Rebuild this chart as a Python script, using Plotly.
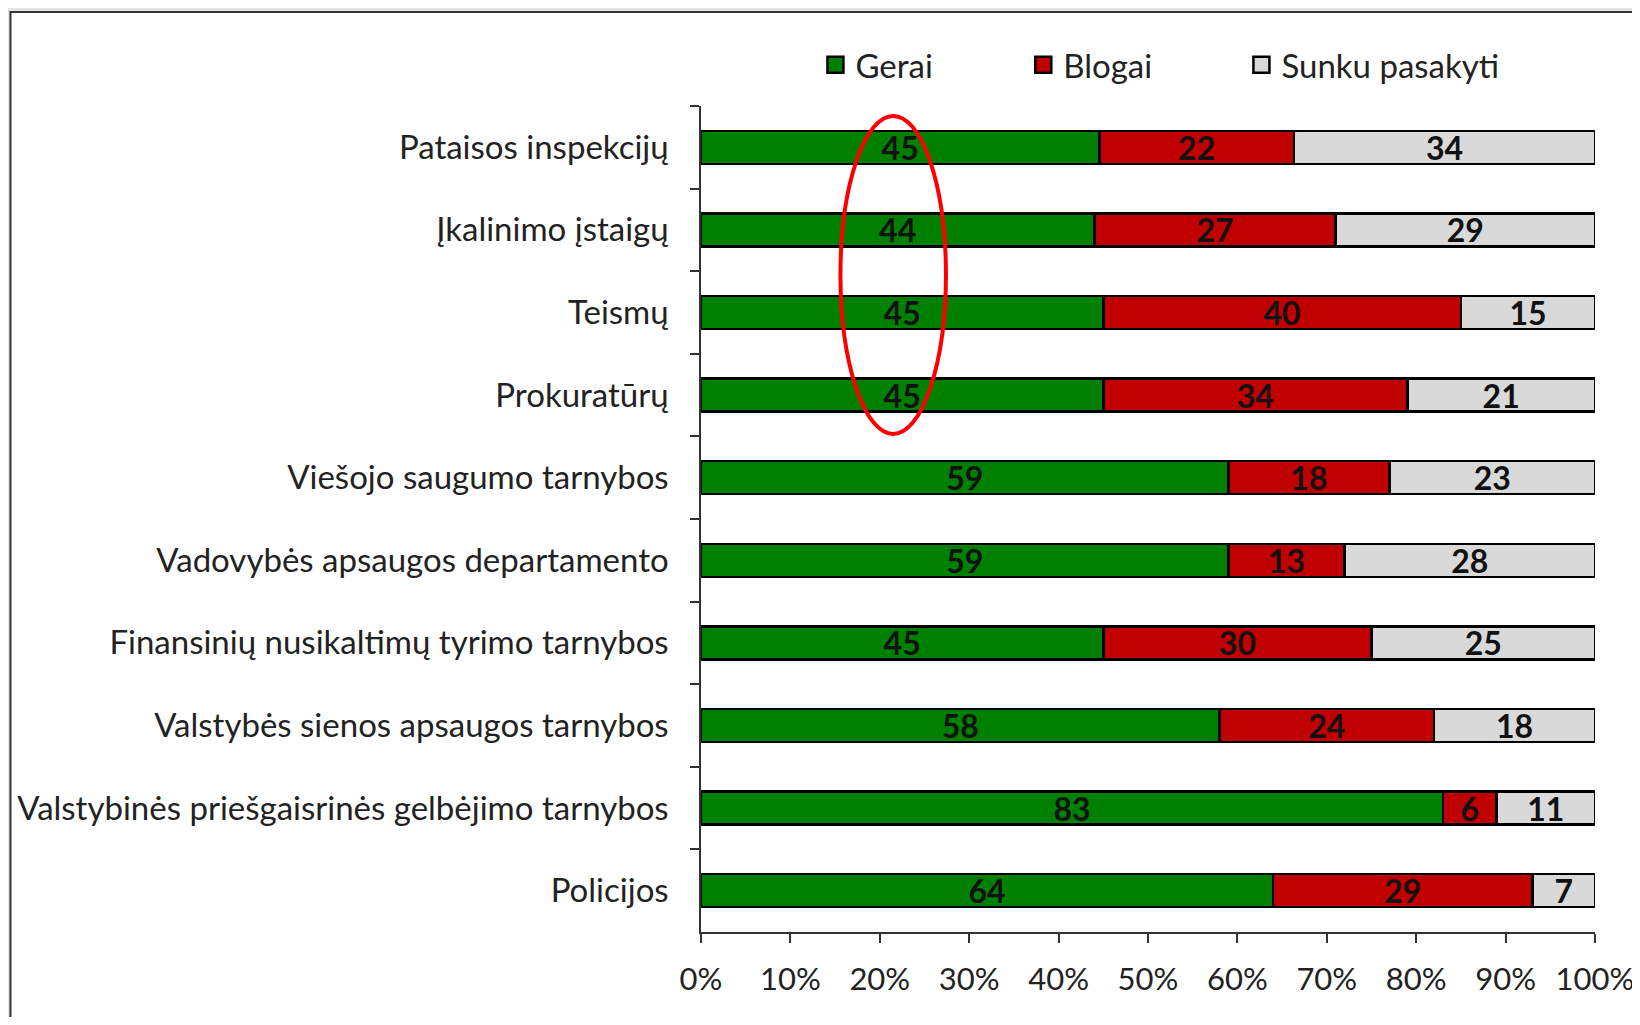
import plotly.graph_objects as go

categories = [
    "Pataisos inspekcijų",
    "Įkalinimo įstaigų",
    "Teismų",
    "Prokuratūrų",
    "Viešojo saugumo tarnybos",
    "Vadovybės apsaugos departamento",
    "Finansinių nusikaltimų tyrimo tarnybos",
    "Valstybės sienos apsaugos tarnybos",
    "Valstybinės priešgaisrinės gelbėjimo tarnybos",
    "Policijos",
]
gerai = [45, 44, 45, 45, 59, 59, 45, 58, 83, 64]
blogai = [22, 27, 40, 34, 18, 13, 30, 24, 6, 29]
sunku = [34, 29, 15, 21, 23, 28, 25, 18, 11, 7]
series_names = ["Gerai", "Blogai", "Sunku pasakyti"]
x_ticks = [0, 10, 20, 30, 40, 50, 60, 70, 80, 90, 100]
x_tick_labels = [f"{v}%" for v in x_ticks]

colors = ["#008000", "#C00000", "#D9D9D9"]
FONT = "Lato"
legend_ids = ["legend", "legend2", "legend3"]

fig = go.Figure()
for name, vals, col in zip(series_names, [gerai, blogai, sunku], colors):
    fig.add_trace(go.Bar(
        y=categories, x=vals, name=name, orientation="h", showlegend=False,
        marker=dict(color=col, line=dict(color="#000000", width=2.5)),
        text=[str(v) for v in vals], textposition="inside",
        insidetextanchor="middle", textangle=0, constraintext="none",
        textfont=dict(family=FONT, size=32, color="#111111", weight="bold"),
        width=0.4, hoverinfo="skip",
    ))

# legend entries (square swatches)
for name, col, lid in zip(series_names, colors, legend_ids):
    fig.add_trace(go.Scatter(
        x=[None], y=[None], mode="markers", name=name, legend=lid,
        marker=dict(symbol="square", size=18, color=col,
                    line=dict(color="#000000", width=2.5)),
        hoverinfo="skip",
    ))

# white framed panel
fig.add_shape(type="rect", xref="paper", yref="paper",
              x0=-0.7724, x1=1.2, y0=-0.2, y1=1.1138,
              fillcolor="white", line=dict(color="#333333", width=2), layer="below")

# red ellipse highlight
fig.add_shape(type="circle", xref="x", yref="y",
              x0=15.6, x1=27.4, y0=-0.38, y1=3.47,
              line=dict(color="#FF0000", width=4), fillcolor="rgba(0,0,0,0)")

legend_common = dict(orientation="h", y=1.05, xanchor="left", yanchor="middle",
                     font=dict(family=FONT, size=33, color="#222222"),
                     itemsizing="trace", itemwidth=30, bgcolor="rgba(0,0,0,0)")

fig.update_layout(
    width=1632, height=1009,
    margin=dict(l=693, r=45, t=98, b=85, autoexpand=False),
    barmode="stack", barnorm="percent",
    paper_bgcolor="#E4E4E4", plot_bgcolor="white",
    font=dict(family=FONT, size=32, color="#222222"),
    legend=dict(x=0.128, **legend_common),
    legend2=dict(x=0.3605, **legend_common),
    legend3=dict(x=0.6045, **legend_common),
    xaxis=dict(range=[0, 100], tickvals=x_ticks, ticktext=x_tick_labels,
               showgrid=False, zeroline=False, showline=True, linecolor="#333333",
               linewidth=1.5, ticks="outside", ticklen=9, tickcolor="#333333",
               tickwidth=1.5, tickfont=dict(size=31, color="#222222"),
               ticklabelstandoff=10, fixedrange=True, automargin=False),
    yaxis=dict(categoryorder="array", categoryarray=categories, autorange="reversed",
               showgrid=False, showline=True, linecolor="#333333", linewidth=1.5,
               ticks="outside", ticklen=9, tickcolor="#333333", tickwidth=1.5,
               tickson="boundaries", tickfont=dict(size=33, color="#222222"),
               ticklabelstandoff=24, fixedrange=True, automargin=False),
)

fig.write_html("out.html")
